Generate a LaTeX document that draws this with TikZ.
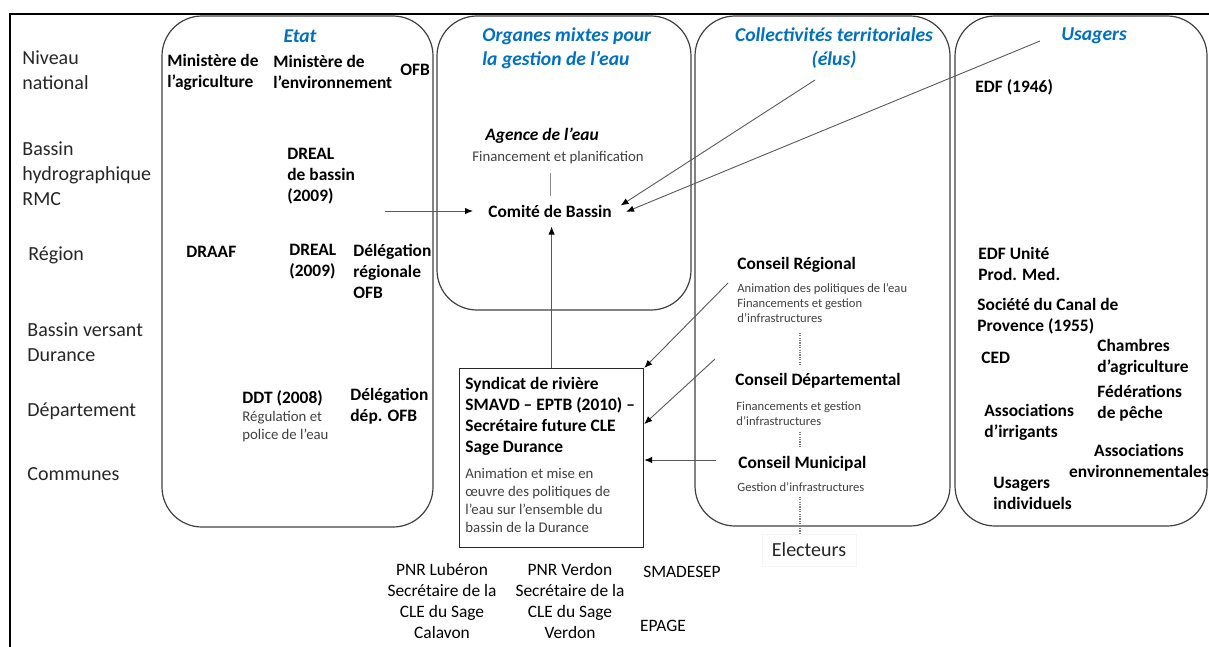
\documentclass[tikz,border=0pt]{standalone}
\usepackage{fontspec}
\setmainfont{Carlito}
\usepackage{xcolor}
\usetikzlibrary{arrows.meta}

\definecolor{hdrblue}{RGB}{0,112,192}
\definecolor{boxgray}{RGB}{64,64,64}
\definecolor{notegray}{RGB}{64,64,64}

\begin{document}
\begin{tikzpicture}[x=0.5pt,y=-0.5pt,
lvl/.style={font=\fontsize{10}{12.5}\selectfont,text=black!85,align=left,anchor=west,inner sep=0pt},
org/.style={font=\bfseries\fontsize{8.7}{10.5}\selectfont,align=left,anchor=west,inner sep=0pt},
hdr/.style={font=\bfseries\itshape\fontsize{9.8}{12}\selectfont,text=hdrblue,align=center,inner sep=0pt},
note/.style={font=\fontsize{7.4}{9}\selectfont,text=notegray,align=left,anchor=west,inner sep=0pt},
tiny/.style={font=\fontsize{6.3}{7.5}\selectfont,text=notegray,align=left,anchor=west,inner sep=0pt},
plain/.style={font=\fontsize{8.7}{10.5}\selectfont,align=center,inner sep=0pt},
grp/.style={draw=boxgray,line width=0.6pt,rounded corners=20pt},
arr/.style={draw=black!65,line width=0.45pt,-{Latex[length=4pt,width=3.2pt,color=black]}},
dotline/.style={draw=black!50,line width=0.6pt,dash pattern=on 0.6pt off 0.6pt},
tie/.style={draw=black!45,line width=0.5pt}]
\useasboundingbox (0,0) rectangle (1209,647);
\draw[line width=1pt](10,647)--(10,14)--(1209,14);
\draw[grp](162,16)rectangle(433,527);
\draw[grp](437,16)rectangle(691,310);
\draw[grp](695,16)rectangle(950,526);
\draw[grp](955,16)rectangle(1207,526);

\node[lvl](natl)at(22,70.5){Niveau\\national};
\node[lvl](bhyd)at(22,174){Bassin\\hydrographique\\RMC};
\node[lvl](reg)at(28,255){Région};
\node[lvl](bv)at(27,342){Bassin versant\\Durance};
\node[lvl](dept)at(27,411){Département};
\node[lvl](comm)at(27,474){Communes};

\node[hdr](etat)at(300,36){Etat};
\node[org](magri)at(167,72){Ministère de\\l’agriculture};
\node[org](menv)at(273,72){Ministère de\\l’environnement};
\node[org](ofb)at(400,70){OFB};
\node[org](drealb)at(287,176){DREAL\\de bassin\\(2009)};
\node[org](draaf)at(186,252){DRAAF};
\node[org](dreal)at(289,262){DREAL\\(2009)};
\node[org](dregofb)at(353,271){Délégation\\régionale\\OFB};
\node[org](ddt)at(242,398){DDT (2008)};
\node[note](ddtnote)at(242,427){Régulation et\\police de l’eau};
\node[org](ddepofb)at(350,406){Délégation\\dép. OFB};

\node[hdr,align=left,anchor=west](orghdr)at(482,48){Organes mixtes pour\\la gestion de l’eau};
\node[org,font=\bfseries\itshape\fontsize{8.7}{10.5}\selectfont](agence)at(485,136){Agence de l’eau};
\node[note](finplan)at(472,158){Financement et planification};
\node[org](comite)at(488,211){Comité de Bassin};

\node[hdr](colhdr)at(834,48){Collectivités territoriales\\(élus)};
\node[org](creg)at(737,265){Conseil Régional};
\node[tiny](cregnote)at(737,303){Animation des politiques de l’eau\\Financements et gestion\\d’infrastructures};
\node[org](cdep)at(735,381){Conseil Départemental};
\node[tiny](cdepnote)at(736,413.5){Financements et gestion\\d’infrastructures};
\node[org](cmun)at(738,464){Conseil Municipal};
\node[tiny](cmunnote)at(737,487){Gestion d’infrastructures};
\node[font=\fontsize{10}{12}\selectfont,text=black!85,draw=black!4,inner xsep=5pt,inner ysep=4.5pt](elect)at(809,550){Electeurs};

\node[hdr](usahdr)at(1094,36){Usagers};
\node[org](edf)at(975,87){EDF (1946)};
\node[org](edfu)at(978,264){EDF Unité\\Prod. Med.};
\node[org](scp)at(977,316){Société du Canal de\\Provence (1955)};
\node[org](ced)at(981,358){CED};
\node[org](chamb)at(1097,357){Chambres\\d’agriculture};
\node[org](fedp)at(1097,403.5){Fédérations\\de pêche};
\node[org](assirr)at(984,422.5){Associations\\d’irrigants};
\node[org,align=center,anchor=center](assenv)at(1139,460.5){Associations\\environnementales};
\node[org](usind)at(993,493.5){Usagers\\individuels};

\node[draw=black!85,line width=0.6pt,anchor=north west,minimum width=92pt,minimum height=89.5pt,inner sep=0pt](synd)at(459,368){};
\node[org](syndt)at(465,416.5){Syndicat de rivière\\SMAVD – EPTB (2010) –\\Secrétaire future CLE\\Sage Durance};
\node[note](syndn)at(465,500.5){Animation et mise en\\œuvre des politiques de\\l’eau sur l’ensemble du\\bassin de la Durance};

\node[plain](pnrl)at(442,601.5){PNR Lubéron\\Secrétaire de la\\CLE du Sage\\Calavon};
\node[plain](pnrv)at(570,601.5){PNR Verdon\\Secrétaire de la\\CLE du Sage\\Verdon};
\node[plain](smad)at(682,572){SMADESEP};
\node[plain](epage)at(663,626){EPAGE};

\coordinate(dbfrom)at(385,211);
\coordinate(elus)at(815,80);
\coordinate(usa)at(1040,41);
\coordinate(crfrom)at(728,283);
\coordinate(cdfrom)at(715,359);
\coordinate(cmfrom)at(716,460);
\coordinate(vx)at(800,0);

\draw[arr,shorten >=7.5pt](dbfrom)--(comite.west);
\draw[arr,shorten >=5pt](elus)--(comite.east);
\draw[arr,shorten >=7.5pt](usa)--(comite.south east);
\draw[arr,shorten >=4.5pt](synd.north)--(synd.north|-comite.south);
\draw[tie,shorten <=4pt,shorten >=4pt](comite.north|-finplan.south)--(comite.north);
\draw[arr](crfrom)--(synd.north east);
\draw[arr](cdfrom)--([yshift=17pt]synd.east);
\draw[arr](cmfrom)--(synd.east|-cmfrom);
\draw[dotline,shorten <=5pt,shorten >=4pt](vx|-cregnote.south)--(vx|-cdep.north);
\draw[dotline,shorten <=3pt,shorten >=4pt](vx|-cdepnote.south)--(vx|-cmun.north);
\draw[dotline,shorten <=2.5pt](vx|-cmunnote.south)--(vx|-elect.north);
\end{tikzpicture}
\end{document}
